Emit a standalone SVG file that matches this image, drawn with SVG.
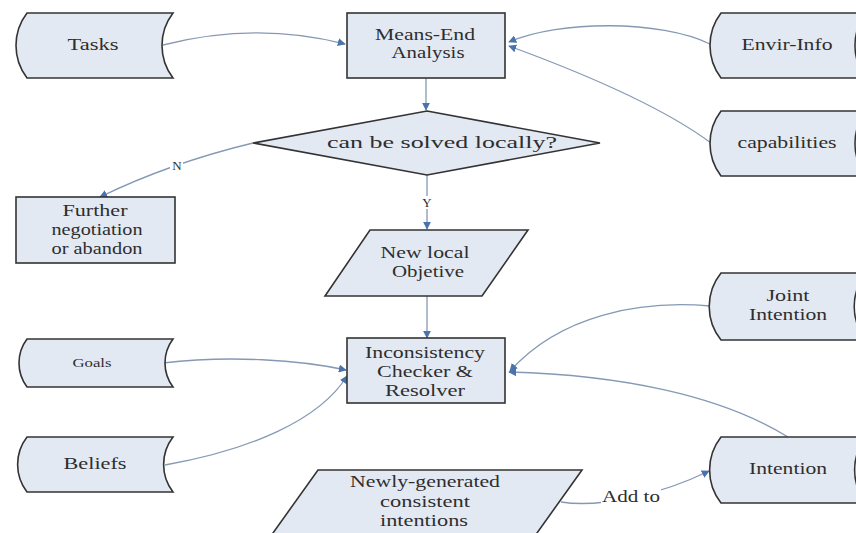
<svg xmlns="http://www.w3.org/2000/svg" width="856" height="533" viewBox="0 0 856 533">
<defs>
<style>
.n{fill:#e3e9f3;stroke:#333333;stroke-width:1.6}
.t{font-family:"Liberation Serif","Times New Roman",serif;font-size:16.5px;fill:#2e2e2e;text-anchor:middle}
.s{font-size:13px}
.c{fill:none;stroke:#8599b5;stroke-width:1.3}
.lb{fill:#ffffff}
</style>
<marker id="ah" viewBox="0 0 10 10" refX="9" refY="5" markerWidth="8" markerHeight="8" markerUnits="userSpaceOnUse" orient="auto">
<path d="M0,0 L10,5 L0,10 Z" fill="#4a72ac"/>
</marker>
</defs>
<rect width="856" height="533" fill="#ffffff"/>

<g id="connectors">
<path class="c" d="M163,45 C230,28 290,30 345,44" marker-end="url(#ah)"/>
<path class="c" d="M710,44 C660,20 560,20 509,42" marker-end="url(#ah)"/>
<path class="c" d="M711,143 C660,105 580,72 509,46" marker-end="url(#ah)"/>
<path class="c" d="M426,78 L426,110" marker-end="url(#ah)"/>
<path class="c" d="M253,143 Q170,163 100,197" marker-end="url(#ah)"/>
<path class="c" d="M427,175 L427,229" marker-end="url(#ah)"/>
<path class="c" d="M427,296 L427,338" marker-end="url(#ah)"/>
<path class="c" d="M163,363 C230,355 300,360 346,370" marker-end="url(#ah)"/>
<path class="c" d="M165,465 C250,450 320,420 347,376" marker-end="url(#ah)"/>
<path class="c" d="M710,306 C640,300 560,315 510,371" marker-end="url(#ah)"/>
<path class="c" d="M788,437 C720,395 620,375 509,372" marker-end="url(#ah)"/>
<path class="c" d="M561,502 C600,508 660,495 709,471" marker-end="url(#ah)"/>
<rect class="lb" x="170" y="158" width="13" height="14"/>
<text class="t s" x="177" y="170">N</text>
<rect class="lb" x="420" y="196" width="14" height="13"/>
<text class="t s" x="427" y="207">Y</text>
<rect class="lb" x="601" y="487" width="60" height="19"/>
<text class="t" x="631" y="502" textLength="58" lengthAdjust="spacingAndGlyphs">Add to</text>
</g>

<g id="tasks">
<path class="n" d="M27,13 L173,13 A53.5,53.5 0 0 0 173,78 L27,78 A53.5,53.5 0 0 1 27,13 Z"/>
<text class="t" x="93" y="50" textLength="51" lengthAdjust="spacingAndGlyphs">Tasks</text>
</g>

<g id="means-end">
<rect class="n" x="347" y="13" width="158" height="65"/>
<text class="t" x="425" y="40" textLength="100" lengthAdjust="spacingAndGlyphs">Means-End</text>
<text class="t" x="428" y="58" textLength="73" lengthAdjust="spacingAndGlyphs">Analysis</text>
</g>

<g id="envir-info">
<path class="n" d="M721,13 L866,13 A53.5,53.5 0 0 0 866,78 L721,78 A53.5,53.5 0 0 1 721,13 Z"/>
<text class="t" x="787" y="50" textLength="91" lengthAdjust="spacingAndGlyphs">Envir-Info</text>
</g>

<g id="capabilities">
<path class="n" d="M721,111 L866,111 A53.5,53.5 0 0 0 866,176 L721,176 A53.5,53.5 0 0 1 721,111 Z"/>
<text class="t" x="787" y="148" textLength="99" lengthAdjust="spacingAndGlyphs">capabilities</text>
</g>

<g id="decision">
<path class="n" d="M427,111 L600,143 L427,175 L253,143 Z"/>
<text class="t" x="442" y="148" textLength="230" lengthAdjust="spacingAndGlyphs">can be solved locally?</text>
</g>

<g id="further">
<rect class="n" x="16" y="197" width="159" height="66"/>
<text class="t" x="95" y="216" textLength="65" lengthAdjust="spacingAndGlyphs">Further</text>
<text class="t" x="97" y="235" textLength="91" lengthAdjust="spacingAndGlyphs">negotiation</text>
<text class="t" x="97" y="254" textLength="91" lengthAdjust="spacingAndGlyphs">or abandon</text>
</g>

<g id="new-local">
<path class="n" d="M370,230 L528,230 L482,296 L325,296 Z"/>
<text class="t" x="425" y="258" textLength="89" lengthAdjust="spacingAndGlyphs">New local</text>
<text class="t" x="428" y="277" textLength="72" lengthAdjust="spacingAndGlyphs">Objetive</text>
</g>

<g id="inconsistency">
<rect class="n" x="347" y="338" width="158" height="65"/>
<text class="t" x="425" y="358" textLength="120" lengthAdjust="spacingAndGlyphs">Inconsistency</text>
<text class="t" x="425" y="377" textLength="96" lengthAdjust="spacingAndGlyphs">Checker &amp;</text>
<text class="t" x="425" y="396" textLength="80" lengthAdjust="spacingAndGlyphs">Resolver</text>
</g>

<g id="goals">
<path class="n" d="M27,339 L173,339 A40,40 0 0 0 173,387 L27,387 A40,40 0 0 1 27,339 Z"/>
<text class="t s" x="92" y="367" textLength="39" lengthAdjust="spacingAndGlyphs">Goals</text>
</g>

<g id="beliefs">
<path class="n" d="M27,437 L173,437 A45,45 0 0 0 173,492 L27,492 A45,45 0 0 1 27,437 Z"/>
<text class="t" x="95" y="469" textLength="63" lengthAdjust="spacingAndGlyphs">Beliefs</text>
</g>

<g id="joint-intention">
<path class="n" d="M721,273 L866,273 A53.5,53.5 0 0 0 866,340 L721,340 A53.5,53.5 0 0 1 721,273 Z"/>
<text class="t" x="788" y="301" textLength="43" lengthAdjust="spacingAndGlyphs">Joint</text>
<text class="t" x="788" y="320" textLength="78" lengthAdjust="spacingAndGlyphs">Intention</text>
</g>

<g id="intention">
<path class="n" d="M721,437 L866,437 A53.5,53.5 0 0 0 866,503 L721,503 A53.5,53.5 0 0 1 721,437 Z"/>
<text class="t" x="788" y="474" textLength="78" lengthAdjust="spacingAndGlyphs">Intention</text>
</g>

<g id="newly-generated">
<path class="n" d="M318,470 L582,470 L532,540 L268,540 Z"/>
<text class="t" x="425" y="487" textLength="150" lengthAdjust="spacingAndGlyphs">Newly-generated</text>
<text class="t" x="425" y="507" textLength="90" lengthAdjust="spacingAndGlyphs">consistent</text>
<text class="t" x="424" y="526" textLength="88" lengthAdjust="spacingAndGlyphs">intentions</text>
</g>
</svg>
